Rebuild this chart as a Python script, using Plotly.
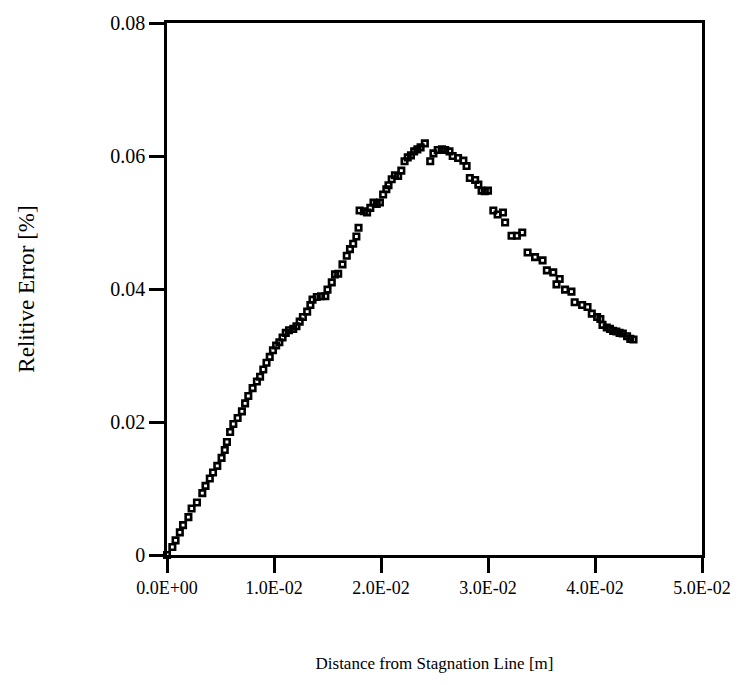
import plotly.graph_objects as go

# Distance from stagnation line [m]
distance = [
    0.0000, 0.0005, 0.0008, 0.0012, 0.0015, 0.0020, 0.0023, 0.0028, 0.0033, 0.0036,
    0.0040, 0.0043, 0.0047, 0.0051, 0.0054, 0.0056, 0.0059, 0.0062, 0.0066, 0.0070,
    0.0073, 0.0076, 0.0080, 0.0084, 0.0087, 0.0090, 0.0093, 0.0096, 0.0099, 0.0102,
    0.0105, 0.0108, 0.0111, 0.0114, 0.0118, 0.0121, 0.0124, 0.0127, 0.0131, 0.0134,
    0.0136, 0.0140, 0.0144, 0.0148, 0.0150, 0.0154, 0.0157, 0.0160, 0.0164, 0.0168,
    0.0171, 0.0174, 0.0177, 0.0179, 0.0180, 0.0184, 0.0187, 0.0190, 0.0193, 0.0196,
    0.0199, 0.0202, 0.0205, 0.0207, 0.0210, 0.0213, 0.0216, 0.0219, 0.0222, 0.0225,
    0.0228, 0.0231, 0.0234, 0.0237, 0.0241,
    0.0246, 0.0249, 0.0253, 0.0257, 0.0260, 0.0264, 0.0267, 0.0272, 0.0277, 0.0280,
    0.0283, 0.0288, 0.0291, 0.0294, 0.0297, 0.0300, 0.0305, 0.0309, 0.0314, 0.0316,
    0.0322, 0.0327, 0.0332, 0.0337, 0.0344, 0.0351, 0.0355, 0.0361, 0.0364, 0.0367,
    0.0372, 0.0378, 0.0381, 0.0388, 0.0393, 0.0397, 0.0402, 0.0405, 0.0407, 0.0411,
    0.0414, 0.0417, 0.0420, 0.0423, 0.0426, 0.0430, 0.0433, 0.0436,
]

# Relative error [%]
rel_error = [
    0.0000, 0.0012, 0.0022, 0.0034, 0.0045, 0.0057, 0.0070, 0.0079, 0.0093, 0.0104,
    0.0115, 0.0124, 0.0134, 0.0146, 0.0158, 0.0170, 0.0185, 0.0197, 0.0206, 0.0216,
    0.0228, 0.0239, 0.0251, 0.0261, 0.0268, 0.0279, 0.0289, 0.0298, 0.0308, 0.0315,
    0.0320, 0.0327, 0.0334, 0.0338, 0.0340, 0.0344, 0.0351, 0.0358, 0.0366, 0.0376,
    0.0384, 0.0388, 0.0389, 0.0389, 0.0399, 0.0410, 0.0422, 0.0423, 0.0437, 0.0450,
    0.0460, 0.0468, 0.0479, 0.0492, 0.0518, 0.0517, 0.0515, 0.0522, 0.0530, 0.0528,
    0.0530, 0.0542, 0.0550, 0.0556, 0.0565, 0.0571, 0.0570, 0.0578, 0.0592, 0.0598,
    0.0601, 0.0607, 0.0610, 0.0613, 0.0619,
    0.0592, 0.0604, 0.0609, 0.0610, 0.0609, 0.0607, 0.0600, 0.0597, 0.0593, 0.0585,
    0.0567, 0.0564, 0.0557, 0.0548, 0.0547, 0.0548, 0.0518, 0.0512, 0.0515, 0.0500,
    0.0480, 0.0480, 0.0485, 0.0455, 0.0448, 0.0443, 0.0428, 0.0425, 0.0407, 0.0415,
    0.0399, 0.0396, 0.0380, 0.0376, 0.0373, 0.0363, 0.0358, 0.0355, 0.0346, 0.0342,
    0.0340, 0.0337, 0.0336, 0.0334, 0.0333, 0.0329, 0.0325, 0.0324,
]

x_tickvals = [0.0, 0.01, 0.02, 0.03, 0.04, 0.05]
x_ticktext = ["0.0E+00", "1.0E-02", "2.0E-02", "3.0E-02", "4.0E-02", "5.0E-02"]
y_tickvals = [0.0, 0.02, 0.04, 0.06, 0.08]
y_ticktext = ["0", "0.02", "0.04", "0.06", "0.08"]

font_family = "Liberation Serif"

fig = go.Figure()
fig.add_trace(go.Scatter(
    x=distance, y=rel_error,
    mode="markers",
    marker=dict(symbol="square-open", size=5.5, color="black",
                line=dict(color="black", width=2.6)),
    cliponaxis=False,
    showlegend=False,
))

fig.update_layout(
    width=745, height=685,
    margin=dict(l=167, r=43, t=19, b=130),
    paper_bgcolor="white", plot_bgcolor="white",
    font=dict(family=font_family, color="black", size=18),
    xaxis=dict(
        range=[0, 0.05], tickvals=x_tickvals, ticktext=x_ticktext,
        showgrid=False, zeroline=False,
        showline=True, linecolor="black", linewidth=2.5, mirror=True,
        ticks="outside", ticklen=15, tickwidth=2.5, tickcolor="black",
        tickfont=dict(size=18),
        title=dict(text="Distance from Stagnation Line [m]",
                   font=dict(size=17), standoff=60),
    ),
    yaxis=dict(
        range=[0, 0.08], tickvals=y_tickvals, ticktext=y_ticktext,
        showgrid=False, zeroline=False,
        showline=True, linecolor="black", linewidth=2.5, mirror=True,
        ticks="outside", ticklen=15, tickwidth=2.5, tickcolor="black",
        tickfont=dict(size=20),
        title=dict(text="Relitive Error [%]",
                   font=dict(size=23), standoff=70),
    ),
)

fig.write_html("out.html")
